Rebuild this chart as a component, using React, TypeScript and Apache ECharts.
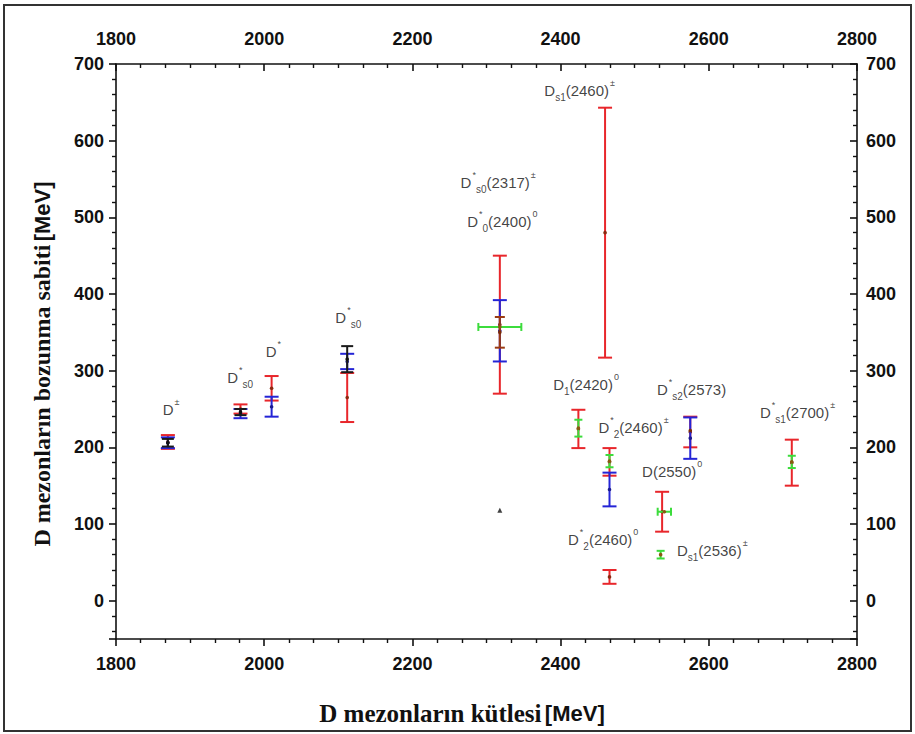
import React, { useEffect, useRef } from "react";
import * as echarts from "echarts";

// [mass (MeV), decay constant (MeV), yError, xError]
const redBars: number[][] = [
  [1870, 207, 9, 0],
  [1968, 250, 6, 0],
  [2010, 277, 16, 0],
  [2112, 265, 32, 0],
  [2318, 360, 90, 0],
  [2460, 480, 163, 0],
  [2424, 224, 25, 0],
  [2466, 181, 18, 0],
  [2466, 31, 9, 0],
  [2537, 116, 26, 0],
  [2575, 220, 20, 0],
  [2712, 180, 30, 0],
];
const blueBars: number[][] = [
  [1870, 206, 7, 0],
  [1968, 244, 6, 0],
  [2010, 253, 13, 0],
  [2112, 312, 10, 0],
  [2318, 352, 40, 0],
  [2466, 145, 22, 0],
  [2575, 212, 27, 0],
];
const blackBars: number[][] = [
  [1870, 206, 5, 0],
  [1968, 246, 4, 0],
  [2112, 315, 17, 0],
];
const brownBars: number[][] = [
  [2318, 350, 20, 0],
  [2575, 222, 0, 0],
];
const greenBars: number[][] = [
  [2318, 357, 0, 29],
  [2424, 225, 11, 0],
  [2466, 182, 8, 0],
  [2540, 116, 0, 9],
  [2535, 60, 5, 0],
  [2712, 181, 8, 0],
];
const blackPoints: number[][] = [[2318, 118]];

// meson labels: [mass, value, text]
const labelMass = [1863, 1950, 2002, 2096, 2265, 2274, 2378, 2390, 2530, 2451, 2510, 2410, 2557, 2669];
const labelValue = [249, 291, 325, 369, 545, 494, 666, 282, 275, 226, 168, 80, 66, 246];
const labelText = [
  "D{sup|±}",
  "D{sup|*}{sub|s0}",
  "D{sup|*}",
  "D{sup|*}{sub|s0}",
  "D{sup|*}{sub|s0}(2317){sup|±}",
  "D{sup|*}{sub|0}(2400){sup|0}",
  "D{sub|s1}(2460){sup|±}",
  "D{sub|1}(2420){sup|0}",
  "D{sup|*}{sub|s2}(2573)",
  "D{sup|*}{sub|2}(2460){sup|±}",
  "D(2550){sup|0}",
  "D{sup|*}{sub|2}(2460){sup|0}",
  "D{sub|s1}(2536){sup|±}",
  "D{sup|*}{sub|s1}(2700){sup|±}",
];

const xTicks = { min: 1800, max: 2800, interval: 200 };
const yTicks = { min: -50, max: 700, step: 100 };

function errRenderer(color: string, dot: string, capHalf: number, lw: number) {
  return (params: any, api: any) => {
    const x = api.value(0);
    const y = api.value(1);
    const ey = api.value(2);
    const ex = api.value(3);
    const c = api.coord([x, y]);
    const children: any[] = [];
    const st = { stroke: color, lineWidth: lw };
    if (ey > 0) {
      const t = api.coord([x, y + ey]);
      const b = api.coord([x, y - ey]);
      children.push({ type: "line", shape: { x1: t[0], y1: t[1], x2: b[0], y2: b[1] }, style: st });
      children.push({ type: "line", shape: { x1: t[0] - capHalf, y1: t[1], x2: t[0] + capHalf, y2: t[1] }, style: st });
      children.push({ type: "line", shape: { x1: b[0] - capHalf, y1: b[1], x2: b[0] + capHalf, y2: b[1] }, style: st });
    }
    if (ex > 0) {
      const l = api.coord([x - ex, y]);
      const r = api.coord([x + ex, y]);
      children.push({ type: "line", shape: { x1: l[0], y1: l[1], x2: r[0], y2: r[1] }, style: st });
      children.push({ type: "line", shape: { x1: l[0], y1: l[1] - capHalf, x2: l[0], y2: l[1] + capHalf }, style: st });
      children.push({ type: "line", shape: { x1: r[0], y1: r[1] - capHalf, x2: r[0], y2: r[1] + capHalf }, style: st });
    }
    children.push({ type: "circle", shape: { cx: c[0], cy: c[1], r: 1.8 }, style: { fill: dot } });
    return { type: "group", children };
  };
}

function errSeries(name: string, data: number[][], color: string, dot: string, capHalf: number, lw: number) {
  return {
    type: "custom",
    name,
    data,
    encode: { x: 0, y: 1 },
    renderItem: errRenderer(color, dot, capHalf, lw),
    z: 3,
  };
}

const tickFont = { fontFamily: "Liberation Sans, Arial, sans-serif", fontWeight: "bold", fontSize: 18, color: "#111" };
const labelFont = "Liberation Sans, Arial, sans-serif";

export default function App() {
  const ref = useRef<HTMLDivElement>(null);
  useEffect(() => {
    const chart = echarts.init(ref.current!, null, { renderer: "svg" });
    const axisLine = { show: true, onZero: false, lineStyle: { color: "#111", width: 1.6 } };
    const xCommon = {
      type: "value",
      min: xTicks.min,
      max: xTicks.max,
      interval: xTicks.interval,
      splitLine: { show: false },
      axisLine,
      minorTick: { show: true, splitNumber: 6, length: 4, lineStyle: { color: "#111", width: 1.4 } },
      axisLabel: { ...tickFont, margin: 16, formatter: (v: number) => String(v) },
    };
    const yCommon = {
      type: "value",
      min: yTicks.min,
      max: yTicks.max,
      splitNumber: 7,
      minInterval: yTicks.step,
      maxInterval: yTicks.step,
      splitLine: { show: false },
      axisLine,
      minorTick: { show: true, splitNumber: 5, length: 4, lineStyle: { color: "#111", width: 1.4 } },
    };
    const labelData = labelMass.map((m, i) => [m, labelValue[i], labelText[i]]);
    chart.setOption({
      animation: false,
      backgroundColor: "#fff",
      grid: { left: 116, right: 58, top: 64, bottom: 95 },
      xAxis: [
        { ...xCommon, position: "bottom", axisTick: { show: true, inside: false, length: 7, lineStyle: { color: "#111", width: 1.6 } } },
        { ...xCommon, position: "top", axisTick: { show: true, inside: true, length: 7, lineStyle: { color: "#111", width: 1.6 } } },
      ],
      yAxis: [
        {
          ...yCommon,
          position: "left",
          axisTick: { show: true, inside: false, length: 7, lineStyle: { color: "#111", width: 1.6 } },
          axisLabel: { ...tickFont, margin: 12, formatter: (v: number) => (v < 0 || v % 100 !== 0 ? "" : String(v)) },
        },
        {
          ...yCommon,
          position: "right",
          axisTick: { show: true, inside: true, length: 7, lineStyle: { color: "#111", width: 1.6 } },
          axisLabel: { ...tickFont, margin: 9, formatter: (v: number) => (v < 0 || v % 100 !== 0 ? "" : String(v)) },
        },
      ],
      series: [
        errSeries("red", redBars, "#e8262b", "#8a2a10", 7, 2),
        errSeries("blue", blueBars, "#2424d6", "#1a1a90", 7, 2),
        errSeries("black", blackBars, "#1a1a1a", "#111", 6, 2),
        errSeries("brown", brownBars, "#9a3a12", "#7a2a0a", 5, 2),
        errSeries("green", greenBars, "#3cdc3c", "#8a5a10", 4, 2),
        {
          type: "scatter",
          data: blackPoints,
          symbol: "triangle",
          symbolSize: 5,
          itemStyle: { color: "#111" },
          z: 4,
        },
        {
          type: "scatter",
          data: labelData,
          symbolSize: 0,
          z: 5,
          label: {
            show: true,
            position: "right",
            distance: 0,
            formatter: (p: any) => p.data[2],
            color: "#111",
            fontFamily: labelFont,
            fontSize: 15,
            lineHeight: 24,
            rich: {
              sup: { fontSize: 9, verticalAlign: "top", lineHeight: 9, color: "#111", fontFamily: labelFont, padding: [0, 0, 0, 1] },
              sub: { fontSize: 10, verticalAlign: "bottom", lineHeight: 10, color: "#111", fontFamily: labelFont },
            },
          },
        },
      ],
      graphic: [
        {
          type: "rect",
          shape: { x: 4, y: 5, width: 907, height: 726 },
          style: { fill: "none", stroke: "#333", lineWidth: 2 },
          silent: true,
        },
        {
          type: "text",
          x: 462,
          y: 713,
          style: {
            text: "{s|D mezonların kütlesi} {m|[MeV]}",
            align: "center",
            verticalAlign: "middle",
            rich: {
              s: { fontFamily: "Liberation Serif, Times New Roman, serif", fontWeight: "bold", fontSize: 25, fill: "#111" },
              m: { fontFamily: "Liberation Sans, Arial, sans-serif", fontWeight: "bold", fontSize: 22, fill: "#111" },
            },
          },
        },
        {
          type: "text",
          x: 42,
          y: 364,
          rotation: Math.PI / 2,
          style: {
            text: "{s|D mezonların bozunma sabiti} {m|[MeV]}",
            align: "center",
            verticalAlign: "middle",
            rich: {
              s: { fontFamily: "Liberation Serif, Times New Roman, serif", fontWeight: "bold", fontSize: 24, fill: "#111" },
              m: { fontFamily: "Liberation Sans, Arial, sans-serif", fontWeight: "bold", fontSize: 22, fill: "#111" },
            },
          },
        },
      ],
    });
    return () => chart.dispose();
  }, []);
  return <div ref={ref} style={{ position: "fixed", left: 0, top: 0, width: 915, height: 734, background: "#fff" }} />;
}
